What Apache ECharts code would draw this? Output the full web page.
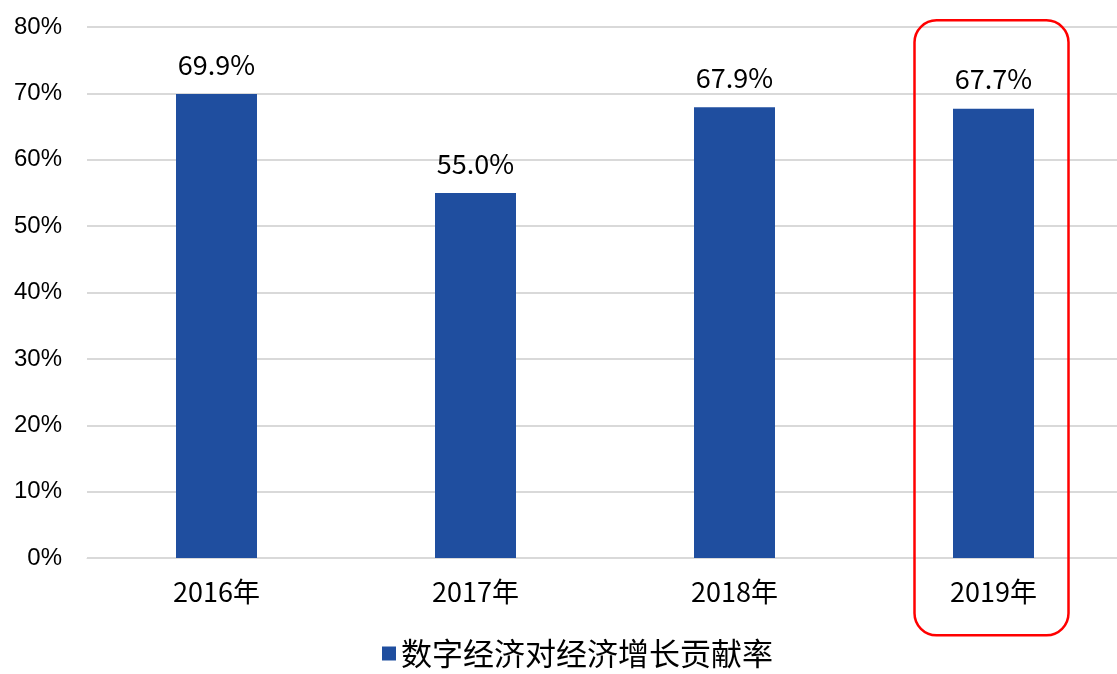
<!DOCTYPE html>
<html>
<head>
<meta charset="utf-8">
<script src="https://cdn.jsdelivr.net/npm/echarts@6/dist/echarts.min.js"></script>
<style>
  html, body { margin: 0; padding: 0; background: #fff; }
  #chart { width: 1117px; height: 674px; }
</style>
</head>
<body>
<div id="chart"></div>
<script>
const years = ['2016年', '2017年', '2018年', '2019年']
const contribution = [69.9, 55.0, 67.9, 67.7]
const seriesName = '数字经济对经济增长贡献率'
const highlightYear = '2019年'

const chart = echarts.init(document.getElementById('chart'))

const option = {
  backgroundColor: '#fff',
  animation: false,
  grid: {
    left: 87,
    width: 1036,
    top: 27,
    bottom: 116,
    outerBoundsMode: 'none'
  },
  legend: {
    bottom: 0,
    left: 377,
    itemWidth: 14,
    itemHeight: 14,
    itemGap: 6,
    icon: 'rect',
    textStyle: {
      color: '#000',
      fontSize: 31,
      fontFamily: 'Noto Sans CJK SC'
    },
    data: [seriesName]
  },
  xAxis: {
    type: 'category',
    data: years,
    axisLine: {
      lineStyle: { color: '#d9d9d9', width: 1 }
    },
    axisTick: { show: false },
    axisLabel: {
      color: '#000',
      fontSize: 27,
      fontFamily: 'Noto Sans CJK SC',
      margin: 20
    }
  },
  yAxis: {
    type: 'value',
    min: 0,
    max: 80,
    interval: 10,
    axisLine: { show: false },
    axisTick: { show: false },
    axisLabel: {
      color: '#000',
      fontSize: 24,
      fontFamily: 'Liberation Sans',
      margin: 25,
      formatter: '{value}%'
    },
    splitLine: {
      lineStyle: { color: '#d9d9d9', width: 2 }
    }
  },
  series: [
    {
      name: seriesName,
      type: 'bar',
      data: contribution,
      barWidth: 81,
      itemStyle: { color: '#1F4E9F' },
      label: {
        show: true,
        position: 'top',
        distance: 16,
        color: '#000',
        fontSize: 27,
        fontFamily: 'Noto Sans CJK SC',
        formatter: (p) => p.value.toFixed(1) + '%'
      }
    }
  ]
}

chart.setOption(option)

// red rounded box around the highlighted year, placed from the axis scale
const idx = years.indexOf(highlightYear)
const center = chart.convertToPixel({ xAxisIndex: 0 }, idx)
const topY = chart.convertToPixel({ yAxisIndex: 0 }, 81)
const boxW = 154
chart.setOption({
  graphic: [
    {
      type: 'rect',
      shape: {
        x: center - boxW / 2 - 2,
        y: topY,
        width: boxW,
        height: 615,
        r: 22
      },
      style: {
        fill: 'none',
        stroke: '#ff0000',
        lineWidth: 2.5
      },
      z: 100
    }
  ]
})
</script>
</body>
</html>
